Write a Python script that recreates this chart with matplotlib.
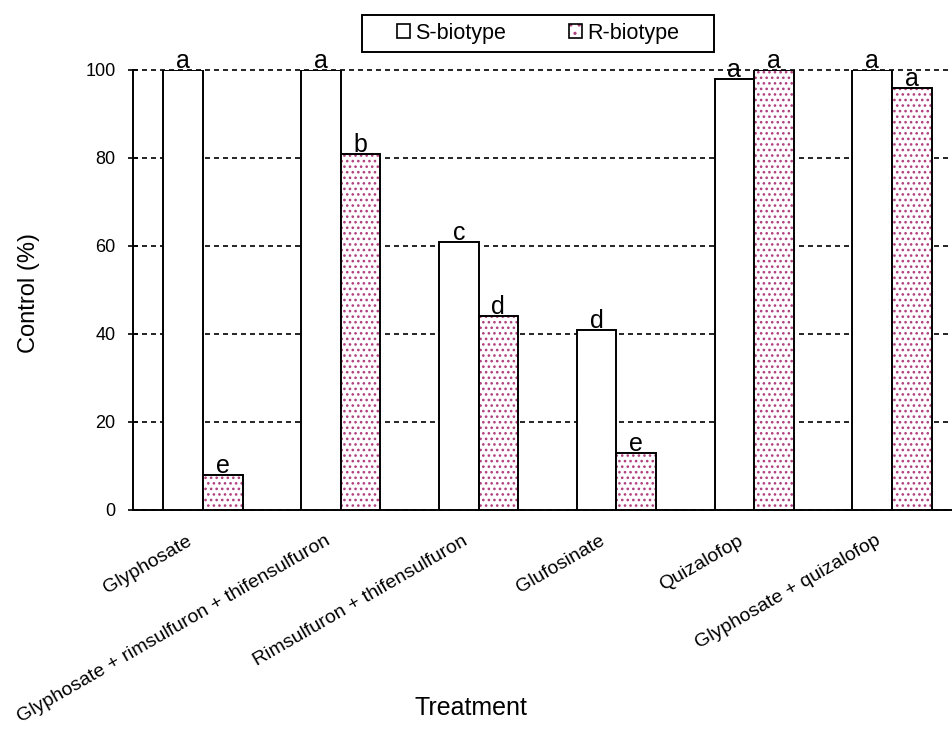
import matplotlib
matplotlib.use("Agg")
import numpy as np
import matplotlib.pyplot as plt
from matplotlib.patches import Patch, Rectangle
from matplotlib.legend_handler import HandlerTuple

treatments = [
    "Glyphosate",
    "Glyphosate + rimsulfuron + thifensulfuron",
    "Rimsulfuron + thifensulfuron",
    "Glufosinate",
    "Quizalofop",
    "Glyphosate + quizalofop",
]
s_biotype = [100, 100, 61, 41, 98, 100]
r_biotype = [8, 81, 44, 13, 100, 96]
s_letters = ["a", "a", "c", "d", "a", "a"]
r_letters = ["e", "b", "d", "e", "a", "a"]

FONT = "Liberation Sans"
PINK = "#b0407f"
plt.rcParams["font.family"] = [FONT, "DejaVu Sans"]
plt.rcParams["hatch.linewidth"] = 1.1

fig = plt.figure(figsize=(9.53, 7.30), dpi=100)
ax = fig.add_axes([133 / 953, 220 / 730, 820 / 953, 440 / 730])

x = np.arange(len(treatments))
w = 0.287

ax.bar(x - w / 2, s_biotype, w, facecolor="white", edgecolor="black",
       linewidth=1.4, zorder=3)
# hatch takes the edge colour, so dots first, black outline on top
ax.bar(x + w / 2, r_biotype, w, facecolor="white", edgecolor=PINK,
       hatch="...", linewidth=0, zorder=3)
ax.bar(x + w / 2, r_biotype, w, facecolor="none", edgecolor="black",
       linewidth=1.4, zorder=4)

for xi, v, t in zip(x - w / 2, s_biotype, s_letters):
    ax.annotate(t, (xi, v), xytext=(0, 1.5), textcoords="offset points",
                ha="center", va="baseline", fontsize=18, zorder=5)
for xi, v, t in zip(x + w / 2, r_biotype, r_letters):
    ax.annotate(t, (xi, v), xytext=(0, 1.5), textcoords="offset points",
                ha="center", va="baseline", fontsize=18, zorder=5)

ax.set_xlim(-0.508, 5.443)
ax.set_ylim(0, 100)
ax.set_yticks([0, 20, 40, 60, 80, 100])
ax.yaxis.grid(True, color="black", linestyle=(0, (3, 2.4)), linewidth=1.2)
ax.set_axisbelow(True)
for gl in ax.get_ygridlines():
    gl.set_clip_on(False)

for side in ["top", "right"]:
    ax.spines[side].set_visible(False)
ax.spines["left"].set_linewidth(1.4)
ax.spines["bottom"].set_linewidth(1.4)

ax.tick_params(axis="y", direction="inout", length=7, width=1.2,
               pad=9, labelsize=13)
ax.tick_params(axis="x", length=0, pad=16)
ax.set_xticks(x - 0.12)
ax.set_xticklabels(treatments, rotation=30, ha="right", va="top",
                   rotation_mode="anchor", fontsize=14)

ax.set_xlabel("Treatment", fontsize=18)
ax.xaxis.set_label_coords(0.412, -0.45)
ax.xaxis.label.set_va("center")
ax.set_ylabel("Control (%)", fontsize=17)
ax.yaxis.set_label_coords(-0.127, 0.493)
ax.yaxis.label.set_va("center")

s_handle = Patch(facecolor="white", edgecolor="black", linewidth=1.2)
r_dots = Patch(facecolor="white", edgecolor=PINK, hatch="..", linewidth=0)
r_edge = Patch(facecolor="none", edgecolor="black", linewidth=1.2)
fig.legend([s_handle, (r_dots, r_edge)], ["S-biotype", "R-biotype"],
           handler_map={tuple: HandlerTuple(ndivide=1)},
           loc="center", bbox_to_anchor=(538 / 953, 1 - 33 / 730),
           ncol=2, frameon=False, fontsize=15.5,
           handlelength=0.6, handleheight=0.6, handletextpad=0.25,
           columnspacing=2.9)
fig.add_artist(Rectangle((362 / 953, 1 - 52 / 730), 352 / 953, 37 / 730,
                         transform=fig.transFigure, facecolor="none",
                         edgecolor="black", linewidth=1.4))

fig.savefig("out.png", dpi=100)
